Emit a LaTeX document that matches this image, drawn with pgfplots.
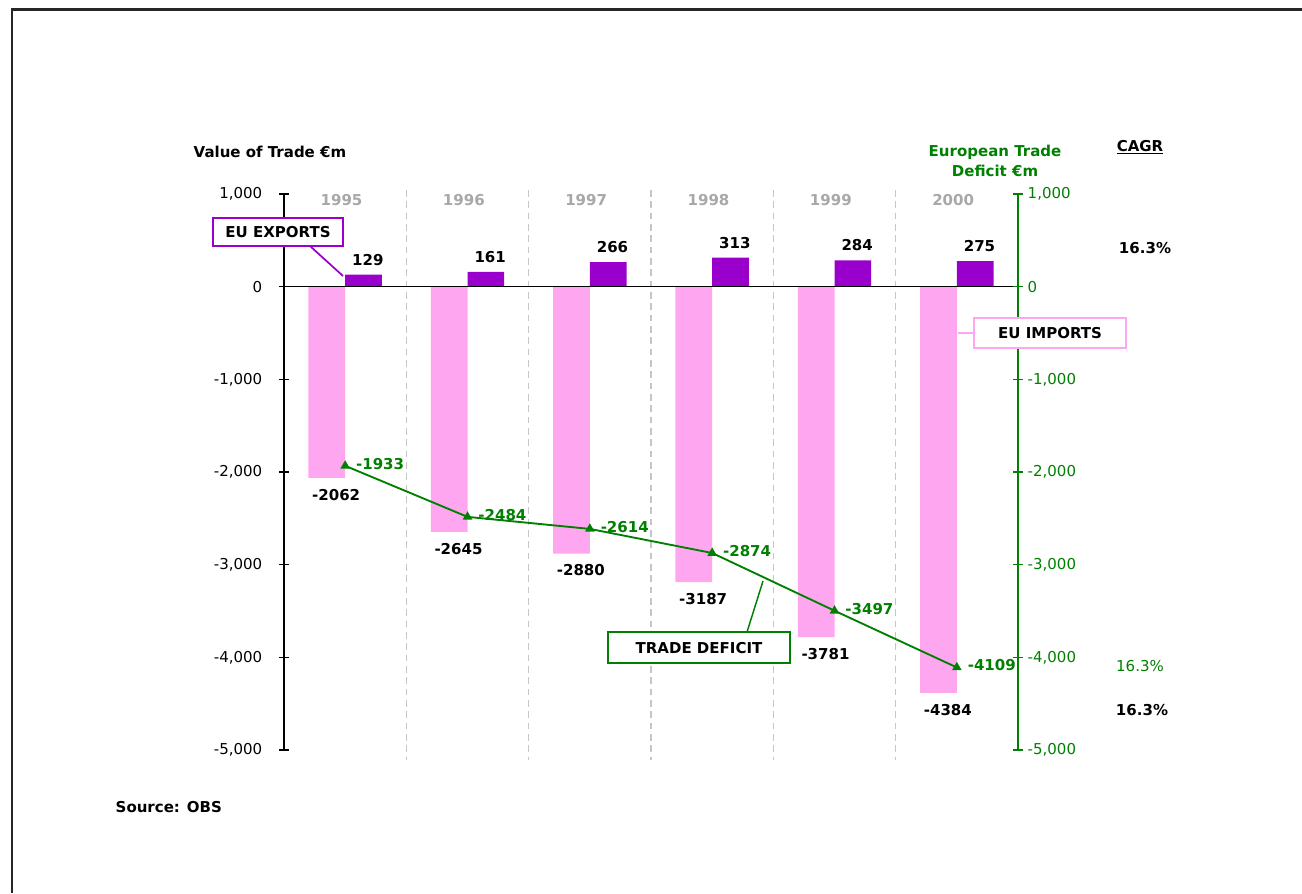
\documentclass[border=0pt]{standalone}
\usepackage{fontspec}
\setmainfont{DejaVu Sans}
\usepackage{pgfplots}
\usepackage{pgfplotstable}
\pgfplotsset{compat=1.18}
\definecolor{expurple}{RGB}{153,0,204}
\definecolor{impink}{RGB}{255,166,240}
\definecolor{defgreen}{RGB}{0,128,0}
\definecolor{yeargray}{RGB}{168,168,168}
\newcommand\fs{\fontsize{11.25}{13.5}\selectfont}

% year index, EU exports, EU imports, trade deficit (EUR m)
\pgfplotstableread{
x exports imports deficit
0 129 -2062 -1933
1 161 -2645 -2484
2 266 -2880 -2614
3 313 -3187 -2874
4 284 -3781 -3497
5 275 -4384 -4109
}\tradedata

\pgfplotsset{
  tradeaxis/.style={
    at={(213pt,-562.5pt)}, anchor=south west,
    scale only axis, width=550.5pt, height=417pt,
    xmin=-0.5, xmax=5.5, ymin=-5000, ymax=1000,
    clip=false,
    ytick={-5000,-4000,...,1000},
    scaled y ticks=false,
    major tick length=7.5pt, tick align=center,
    yticklabel style={font=\fs},
    nodes near coords={\pgfmathprintnumber[1000 sep={}]{\pgfplotspointmeta}},
    /pgf/number format/.cd, 1000 sep={,}, assume math mode=true,
  },
}

\begin{document}
\begin{tikzpicture}
\begin{scope}[x=0.75pt,y=-0.75pt]
  \path[use as bounding box] (0,0) rectangle (1302,893);
  \fill[white] (0,0) rectangle (1302,893);
  \draw[line width=1.6pt, black!85] (12,893) -- (12,9.5) -- (1302,9.5);
\end{scope}

% left axis: exports and imports
\begin{axis}[tradeaxis,
  axis on top,
  axis x line*=middle, axis y line*=left,
  xtick=\empty,
  y axis line style={line width=1.1pt, black},
  x axis line style={line width=1pt, black},
  ytick style={line width=1.1pt, black},
  yticklabel style={text=black, xshift=-9pt},
]
  \draw[gray!45, line width=0.9pt, dash pattern=on 5pt off 3.5pt] (axis cs:0.5,1043) -- (axis cs:0.5,-5108);
  \draw[gray!45, line width=0.9pt, dash pattern=on 5pt off 3.5pt] (axis cs:1.5,1043) -- (axis cs:1.5,-5108);
  \draw[gray!45, line width=0.9pt, dash pattern=on 5pt off 3.5pt] (axis cs:2.5,1043) -- (axis cs:2.5,-5108);
  \draw[gray!45, line width=0.9pt, dash pattern=on 5pt off 3.5pt] (axis cs:3.5,1043) -- (axis cs:3.5,-5108);
  \draw[gray!45, line width=0.9pt, dash pattern=on 5pt off 3.5pt] (axis cs:4.5,1043) -- (axis cs:4.5,-5108);

  \addplot[ybar, bar width=0.3, bar shift=-0.15, fill=impink, draw=none,
    nodes near coords={\pgfmathprintnumber[1000 sep={}]{\pgfplotspointmeta}},
    every node near coord/.append style={font=\bfseries\fs, text=black, anchor=north, inner sep=0pt, yshift=-8.25pt, xshift=-6.75pt}]
    table[x=x, y=imports] {\tradedata};
  \addplot[ybar, bar width=0.3, bar shift=0.15, fill=expurple, draw=none,
    nodes near coords={\pgfmathprintnumber[1000 sep={}]{\pgfplotspointmeta}},
    every node near coord/.append style={font=\bfseries\fs, text=black, anchor=south, inner sep=0pt, yshift=6.75pt, xshift=17pt}]
    table[x=x, y=exports] {\tradedata};

  \node[font=\bfseries\fs, text=yeargray] at (axis cs:-0.03,935) {1995};
  \node[font=\bfseries\fs, text=yeargray] at (axis cs:0.97,935) {1996};
  \node[font=\bfseries\fs, text=yeargray] at (axis cs:1.97,935) {1997};
  \node[font=\bfseries\fs, text=yeargray] at (axis cs:2.97,935) {1998};
  \node[font=\bfseries\fs, text=yeargray] at (axis cs:3.97,935) {1999};
  \node[font=\bfseries\fs, text=yeargray] at (axis cs:4.97,935) {2000};
\end{axis}

% right axis: trade deficit
\begin{axis}[tradeaxis,
  axis x line=none, axis y line*=right,
  y axis line style={line width=1.1pt, defgreen},
  ytick style={line width=1.1pt, defgreen},
  yticklabel style={text=defgreen},
]
  \addplot[defgreen, line width=1.4pt, mark=triangle*, mark size=2.8pt,
    nodes near coords={\pgfmathprintnumber[1000 sep={}]{\pgfplotspointmeta}},
    every node near coord/.append style={font=\bfseries\fs, text=defgreen, anchor=west, inner sep=0pt, xshift=7.5pt, yshift=1.5pt}]
    table[x=x, y=deficit] {\tradedata};
\end{axis}

\begin{scope}[x=0.75pt,y=-0.75pt]
  \node[font=\bfseries\fs, anchor=west] at (189,152) {Value of Trade €m};
  \node[font=\bfseries\fontsize{11.25}{15}\selectfont, text=defgreen, align=center] at (995,161) {European Trade\\Deficit €m};
  \node[font=\bfseries\fs] at (1140,147) {\underline{CAGR}};
  \node[font=\bfseries\fs] at (1145,248) {16.3\%};
  \node[font=\fs, text=defgreen] at (1140,666) {16.3\%};
  \node[font=\bfseries\fs] at (1142,710) {16.3\%};
  \node[font=\bfseries\fs, anchor=west] at (111,807) {Source: OBS};

  % call-out boxes
  \draw[expurple, line width=1.3pt] (310,246) -- (343,276);
  \draw[expurple, line width=1.5pt, fill=white] (213,218) rectangle (343,246);
  \node[font=\bfseries\fs] at (278,232) {EU EXPORTS};

  \draw[impink, line width=1.5pt] (958,333) -- (974,333);
  \draw[impink, line width=1.5pt, fill=white] (974,318) rectangle (1126,348);
  \node[font=\bfseries\fs] at (1050,333) {EU IMPORTS};

  \draw[defgreen, line width=1.1pt] (747,632) -- (763,581);
  \draw[defgreen, line width=1.5pt, fill=white] (608,632) rectangle (790,663);
  \node[font=\bfseries\fs] at (699,648) {TRADE DEFICIT};
\end{scope}
\end{tikzpicture}
\end{document}
